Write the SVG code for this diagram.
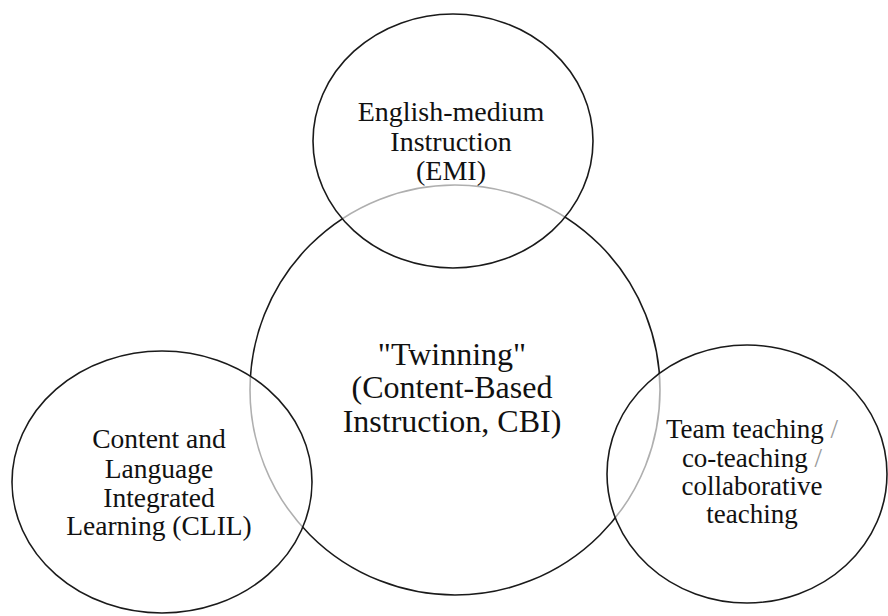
<svg xmlns="http://www.w3.org/2000/svg" width="888" height="616" viewBox="0 0 888 616">
<style>
.c{stroke:#1a1a1a;stroke-width:1.6}
.o{fill:#fff;fill-opacity:0.65}
.t{font-family:"Liberation Serif","Times New Roman",serif;fill:#111;text-anchor:middle}
.g{fill:#999}
</style>
<rect width="888" height="616" fill="#fff"/>
<g id="cbi">
<ellipse class="c" cx="455" cy="390" rx="205" ry="205" fill="#fff"/>
<text class="t" font-size="32" x="452"><tspan x="452" y="365">"Twinning"</tspan><tspan x="452" y="398">(Content-Based</tspan><tspan x="452" y="432">Instruction, CBI)</tspan></text>
</g>
<g id="emi">
<ellipse class="c o" cx="453" cy="141" rx="140" ry="127"/>
<text class="t" font-size="28"><tspan x="451" y="121">English-medium</tspan><tspan x="451" y="151">Instruction</tspan><tspan x="451" y="180">(EMI)</tspan></text>
</g>
<g id="clil">
<ellipse class="c o" cx="162" cy="482" rx="150" ry="131"/>
<text class="t" font-size="27.5"><tspan x="159" y="448">Content and</tspan><tspan x="159" y="478">Language</tspan><tspan x="159" y="507">Integrated</tspan><tspan x="159" y="535">Learning (CLIL)</tspan></text>
</g>
<g id="team">
<ellipse class="c o" cx="747" cy="474" rx="140" ry="129"/>
<text class="t" font-size="27"><tspan x="752" y="438">Team teaching <tspan class="g">/</tspan></tspan><tspan x="752" y="467">co-teaching <tspan class="g">/</tspan></tspan><tspan x="752" y="495">collaborative</tspan><tspan x="752" y="523">teaching</tspan></text>
</g>
<g id="connectors"/>
</svg>
